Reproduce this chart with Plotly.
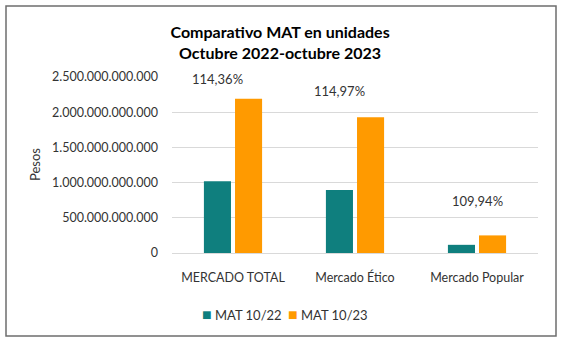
import plotly.graph_objects as go

categories = ["MERCADO TOTAL", "Mercado Ético", "Mercado Popular"]
series_names = ["MAT 10/22", "MAT 10/23"]
series_colors = ["#0f7f7e", "#ff9a00"]
mat_10_22 = [1.02e12, 0.895e12, 0.116e12]
mat_10_23 = [2.19e12, 1.93e12, 0.25e12]
growth_labels = ["114,36%", "114,97%", "109,94%"]
label_y = [2.47e12, 2.30e12, 0.74e12]
label_xshift = [-16, -16, 0]
y_ticks = [0, 0.5e12, 1.0e12, 1.5e12, 2.0e12, 2.5e12]

FONT = "Lato, 'Open Sans', sans-serif"
TXT = "#333333"
W, H = 567, 341
ML, MR, MT, MB = 172, 29, 77, 88
PW, PH = W - ML - MR, H - MT - MB


def px_x(x):
    return (x - ML) / PW


def px_y(y):
    return (H - MB - y) / PH


fig = go.Figure()
for name, vals, col in zip(series_names, [mat_10_22, mat_10_23], series_colors):
    fig.add_trace(go.Bar(name=name, x=categories, y=vals,
                         marker=dict(color=col, line=dict(width=0))))

for c, t, yv, xs in zip(categories, growth_labels, label_y, label_xshift):
    fig.add_annotation(x=c, y=yv, text=t, showarrow=False, xshift=xs,
                       font=dict(family=FONT, size=13, color=TXT))

fig.add_annotation(xref="paper", yref="paper", x=px_x(35), y=0.5, text="Pesos",
                   textangle=-90, showarrow=False, xanchor="center", yanchor="middle",
                   font=dict(family=FONT, size=13, color=TXT))

# legend built as annotations
for name, col, lx in zip(series_names, series_colors, [200, 286]):
    fig.add_annotation(xref="paper", yref="paper", x=px_x(lx), y=px_y(313),
                       xanchor="left", yanchor="middle", showarrow=False,
                       text=f'<span style="color:{col};font-size:16px">■</span> {name}',
                       font=dict(family=FONT, size=13, color=TXT))

fig.add_shape(type="rect", xref="paper", yref="paper",
              x0=px_x(6), x1=px_x(556), y0=px_y(336), y1=px_y(6),
              line=dict(color="#6e6e6e", width=1.5), fillcolor="rgba(0,0,0,0)")

fig.update_layout(
    width=W, height=H,
    margin=dict(l=ML, r=MR, t=MT, b=MB),
    paper_bgcolor="white", plot_bgcolor="white",
    separators=",.",
    barmode="group", bargap=0.49, bargroupgap=0.13,
    showlegend=False,
    title=dict(text="<b>Comparativo MAT en unidades<br>Octubre 2022-octubre 2023</b>",
               xref="container", yref="container", x=0.494, y=0.889,
               xanchor="center", yanchor="middle",
               font=dict(family=FONT, size=16, color="black")),
    xaxis=dict(showgrid=False, showline=False, ticks="", ticklabelstandoff=15,
               tickfont=dict(family=FONT, size=12.5, color=TXT)),
    yaxis=dict(range=[0, 2.5e12], tickvals=y_ticks, tickformat=",d",
               showgrid=True, gridcolor="#d9d9d9", gridwidth=1,
               zeroline=True, zerolinecolor="#d9d9d9", zerolinewidth=1,
               showline=False, ticks="", ticklabelstandoff=13,
               tickfont=dict(family=FONT, size=12.5, color=TXT)),
)

fig.write_html("out.html")
